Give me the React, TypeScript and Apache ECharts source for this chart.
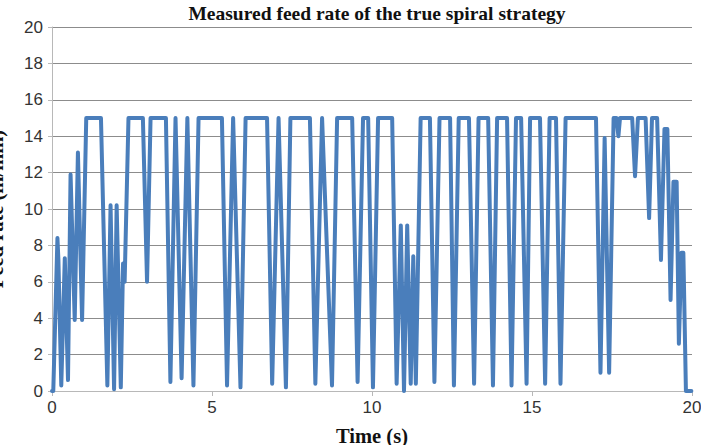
import React, { useEffect, useRef } from "react";
import * as echarts from "echarts";

const titleText = "Measured feed rate of the true spiral strategy";
const xAxisName = "Time (s)";
const yAxisName = "Feed rate (in/min)";

// time (s)
const times = [
  0, 0.04, 0.17, 0.2, 0.29, 0.4, 0.5, 0.58, 0.71, 0.81, 0.94, 1.07, 1.53,
  1.73, 1.83, 1.94, 2.02, 2.15, 2.22, 2.27, 2.39, 2.84, 2.97, 3.08, 3.56,
  3.7, 3.86, 4.05, 4.23, 4.42, 4.58, 5.31, 5.47, 5.66, 5.89, 6.05, 6.72,
  6.88, 7.08, 7.31, 7.45, 8.06, 8.23, 8.44, 8.75, 8.91, 9.38, 9.55, 9.72,
  9.88, 10.03, 10.19, 10.63, 10.77, 10.9, 11.0, 11.1, 11.21, 11.29, 11.37,
  11.52, 11.81, 11.95, 12.11, 12.44, 12.56, 12.71, 13.03, 13.19, 13.33,
  13.63, 13.78, 13.91, 14.22, 14.36, 14.5, 14.66, 14.83, 14.94, 15.25,
  15.41, 15.55, 15.75, 15.89, 16.05, 17.0, 17.14, 17.27, 17.41, 17.55,
  17.64, 17.7, 17.75, 18.13, 18.22, 18.31, 18.55, 18.66, 18.75, 18.91,
  19.03, 19.14, 19.23, 19.33, 19.42, 19.52, 19.59, 19.67, 19.73, 19.81,
  19.98,
];

// feed rate (in/min)
const feedRates = [
  0, 0, 8.4, 7.2, 0.3, 7.3, 0.6, 11.9, 3.9, 13.1, 3.9, 15, 15,
  0.3, 10.2, 0.1, 10.2, 0.2, 7.0, 6.0, 15, 15, 6.0, 15, 15,
  0.5, 15, 0.7, 15, 0.3, 15, 15, 0.3, 15, 0.2, 15, 15,
  0.4, 15, 0.2, 15, 15, 0.4, 15, 0.3, 15, 15, 0.5, 15,
  15, 0.2, 15, 15, 0.4, 9.1, 0, 9.1, 0.4, 7.4, 0.4,
  15, 15, 0.5, 15, 15, 0.3, 15, 15, 0.4, 15,
  15, 0.3, 15, 15, 0.3, 15, 15, 0.4, 15, 15,
  0.4, 15, 15, 0.4, 15, 15, 1.0, 13.9, 1.0, 15,
  15, 14.0, 15, 15, 11.8, 15, 15, 9.5, 15, 15,
  7.2, 14.4, 14.4, 5.0, 11.5, 11.5, 2.6, 7.6, 7.6, 0,
  0,
];

const xTicks = { min: 0, max: 20, interval: 5 };
const yTicks = { min: 0, max: 20, interval: 2 };

export default function App() {
  const ref = useRef<HTMLDivElement>(null);
  useEffect(() => {
    document.body.style.margin = "0";
    if (!ref.current) return;
    const chart = echarts.init(ref.current, undefined, { renderer: "svg" });
    const data = times.map((t, i) => [t, feedRates[i]]);
    chart.setOption({
      animation: false,
      backgroundColor: "#ffffff",
      title: {
        text: titleText,
        left: 372,
        textAlign: "center",
        top: -2,
        textStyle: {
          fontFamily: "Liberation Serif",
          fontWeight: "bold",
          fontSize: 19.5,
          color: "#111",
        },
      },
      grid: {
        left: 52,
        right: 9,
        top: 27,
        bottom: 54,
        containLabel: false,
        outerBoundsMode: "none",
      },
      xAxis: {
        type: "value",
        min: xTicks.min,
        max: xTicks.max,
        interval: xTicks.interval,
        name: xAxisName,
        nameLocation: "middle",
        nameGap: 34,
        nameTextStyle: {
          fontFamily: "Liberation Serif",
          fontWeight: "bold",
          fontSize: 20.5,
          color: "#111",
        },
        axisLine: { show: true, lineStyle: { color: "#b8b8b8", width: 1 } },
        axisTick: { show: true, length: 5, lineStyle: { color: "#b8b8b8" } },
        axisLabel: {
          fontFamily: "Liberation Sans",
          fontSize: 17,
          color: "#333",
          margin: 8,
        },
        splitLine: { show: false },
      },
      yAxis: {
        type: "value",
        min: yTicks.min,
        max: yTicks.max,
        interval: yTicks.interval,
        name: yAxisName,
        nameLocation: "middle",
        nameGap: 46,
        nameRotate: 90,
        nameTextStyle: {
          fontFamily: "Liberation Serif",
          fontWeight: "bold",
          fontSize: 20.5,
          color: "#111",
        },
        axisLine: { show: true, lineStyle: { color: "#b8b8b8", width: 1 } },
        axisTick: { show: true, length: 4, lineStyle: { color: "#b8b8b8" } },
        axisLabel: {
          fontFamily: "Liberation Sans",
          fontSize: 17,
          color: "#333",
          margin: 9,
        },
        splitLine: { show: true, lineStyle: { color: "#8c8c8c", width: 1 } },
      },
      series: [
        {
          type: "line",
          data,
          showSymbol: false,
          smooth: false,
          lineStyle: { color: "#4A7EBB", width: 4, join: "round", cap: "round" },
          itemStyle: { color: "#4A7EBB" },
        },
      ],
    });
    return () => chart.dispose();
  }, []);
  return (
    <div
      ref={ref}
      style={{ position: "fixed", left: 0, top: 0, width: 701, height: 445 }}
    />
  );
}
